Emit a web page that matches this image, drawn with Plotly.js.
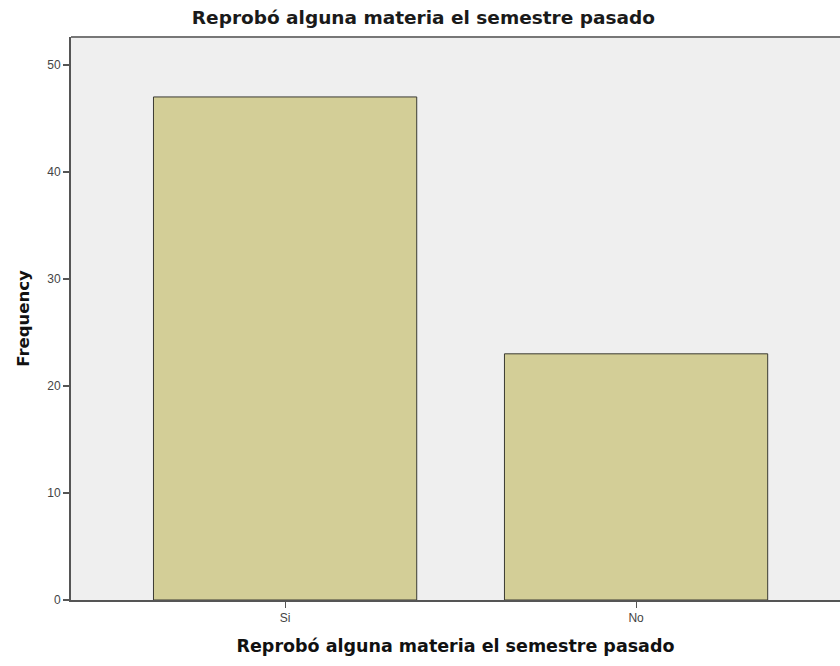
<!DOCTYPE html>
<html>
<head>
<meta charset="utf-8">
<script src="https://cdn.plot.ly/plotly-3.0.1.min.js"></script>
<style>html,body{margin:0;padding:0;background:#fff;}#chart{width:840px;height:666px;}</style>
</head>
<body>
<div id="chart"></div>
<script>
const categories = ["Si", "No"];
const frequency = [47, 23];
const yTicks = [0, 10, 20, 30, 40, 50];
const chartTitle = "Reprobó alguna materia el semestre pasado";
const xTitle = "Reprobó alguna materia el semestre pasado";
const yTitle = "Frequency";

const trace = {
  type: "bar",
  x: categories,
  y: frequency,
  marker: {color: "#d3ce97", line: {color: "#3a3a32", width: 1}},
  hoverinfo: "x+y"
};

const layout = {
  width: 840, height: 666,
  margin: {l: 71, r: 0, t: 37, b: 66},
  paper_bgcolor: "#ffffff",
  plot_bgcolor: "#efefef",
  bargap: 0.25,
  showlegend: false,
  font: {family: "Liberation Sans, Arial, sans-serif", color: "#222"},
  title: {
    text: chartTitle,
    x: 0.504, xanchor: "center", xref: "container",
    y: 0.973, yanchor: "middle", yref: "container",
    font: {size: 18.5, color: "#1a1a1a", family: "DejaVu Sans, sans-serif", weight: "bold"}
  },
  xaxis: {
    type: "category",
    range: [-0.61, 1.581],
    showgrid: false, zeroline: false,
    showline: true, linecolor: "#555", linewidth: 2,
    ticks: "outside", ticklen: 6, tickcolor: "#555", tickwidth: 1,
    tickfont: {size: 12, color: "#444"},
    title: {text: xTitle, standoff: 15, font: {size: 17.5, color: "#111", family: "DejaVu Sans, sans-serif", weight: "bold"}}
  },
  yaxis: {
    range: [0, 52.6],
    tickvals: yTicks,
    showgrid: false, zeroline: false,
    showline: true, linecolor: "#555", linewidth: 2,
    ticks: "outside", ticklen: 6, tickcolor: "#555", tickwidth: 2,
    tickfont: {size: 12, color: "#444"},
    title: {text: yTitle, standoff: 13, font: {size: 16.5, color: "#111", family: "DejaVu Sans, sans-serif", weight: "bold"}}
  },
  shapes: [{
    type: "line", xref: "paper", yref: "paper",
    x0: 0, x1: 1, y0: 1, y1: 1,
    line: {color: "#777", width: 2}
  }]
};

Plotly.newPlot("chart", [trace], layout, {displayModeBar: false, staticPlot: true});
</script>
</body>
</html>
